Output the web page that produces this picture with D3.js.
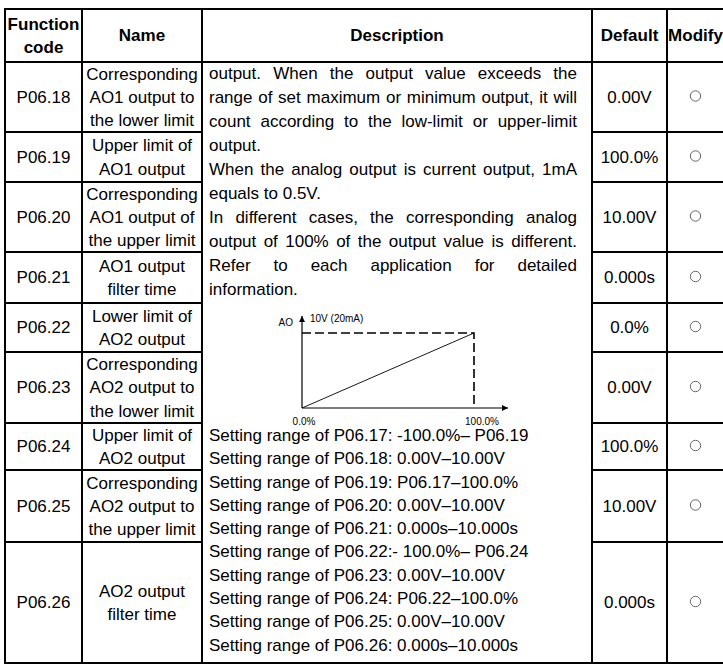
<!DOCTYPE html>
<html>
<head>
<meta charset="utf-8">
<script src="https://cdn.jsdelivr.net/npm/d3@7"></script>
<style>
  body { margin: 0; background: #fff; }
  svg { display: block; }
  text { font-family: "Liberation Sans", Arial, sans-serif; fill: #000; }
</style>
</head>
<body>
<svg id="tbl"></svg>
<script>
// table content
var headers = [["Function", "code"], ["Name"], ["Description"], ["Default"], ["Modify"]];
var codes = ["P06.18", "P06.19", "P06.20", "P06.21", "P06.22", "P06.23", "P06.24", "P06.25", "P06.26"];
var names = [
  ["Corresponding", "AO1 output to", "the lower limit"],
  ["Upper limit of", "AO1 output"],
  ["Corresponding", "AO1 output of", "the upper limit"],
  ["AO1 output", "filter time"],
  ["Lower limit of", "AO2 output"],
  ["Corresponding", "AO2 output to", "the lower limit"],
  ["Upper limit of", "AO2 output"],
  ["Corresponding", "AO2 output to", "the upper limit"],
  ["AO2 output", "filter time"]
];
var defaults = ["0.00V", "100.0%", "10.00V", "0.000s", "0.0%", "0.00V", "100.0%", "10.00V", "0.000s"];
// description text, true = justified line
var descLines = [
  ["output. When the output value exceeds the", true],
  ["range of set maximum or minimum output, it will", true],
  ["count according to the low-limit or upper-limit", true],
  ["output.", false],
  ["When the analog output is current output, 1mA", true],
  ["equals to 0.5V.", false],
  ["In different cases, the corresponding analog", true],
  ["output of 100% of the output value is different.", true],
  ["Refer to each application for detailed", true],
  ["information.", false]
];
var settingRanges = [
  "Setting range of P06.17: -100.0%\u2013 P06.19",
  "Setting range of P06.18: 0.00V\u201310.00V",
  "Setting range of P06.19: P06.17\u2013100.0%",
  "Setting range of P06.20: 0.00V\u201310.00V",
  "Setting range of P06.21: 0.000s\u201310.000s",
  "Setting range of P06.22:- 100.0%\u2013 P06.24",
  "Setting range of P06.23: 0.00V\u201310.00V",
  "Setting range of P06.24: P06.22\u2013100.0%",
  "Setting range of P06.25: 0.00V\u201310.00V",
  "Setting range of P06.26: 0.000s\u201310.000s"
];
// AO curve in the little figure
var aoPct = [0, 100];
var aoVolt = [0, 10];
var aoLabels = {y: "AO", top: "10V (20mA)", x0: "0.0%", x1: "100.0%"};

var width = 723, height = 665;
var colX = [5, 82, 202, 592, 667, 724];
var rowY = [9, 62, 132, 182, 252, 303, 352, 423, 470, 542, 663];
var lh = 23.4;
var fs = 17;

var svg = d3.select("#tbl").attr("width", width).attr("height", height);

function cx(i) { return (colX[i] + colX[i + 1]) / 2; }

function stack(g, lines, x, yc, bold) {
  var y0 = yc - (lines.length - 1) * lh / 2;
  lines.forEach(function(t, i) {
    g.append("text")
      .attr("x", x).attr("y", y0 + i * lh).attr("dy", "0.35em")
      .attr("text-anchor", "middle")
      .attr("font-size", fs)
      .attr("font-weight", bold ? "bold" : "normal")
      .text(t);
  });
}

// header
var head = svg.append("g");
headers.forEach(function(h, i) {
  stack(head, h, cx(i), (rowY[0] + rowY[1]) / 2, true);
});

// body rows
var body = svg.append("g");
codes.forEach(function(c, r) {
  var yc = (rowY[r + 1] + rowY[r + 2]) / 2;
  stack(body, [c], cx(0), yc, false);
  stack(body, names[r], cx(1), yc, false);
  stack(body, [defaults[r]], cx(3), yc, false);
  body.append("circle")
    .attr("cx", cx(4)).attr("cy", yc - 1).attr("r", 5.2)
    .attr("fill", "none").attr("stroke", "#666").attr("stroke-width", 1);
});

// description column
var desc = svg.append("g").attr("font-size", fs);
var dx0 = 209, dx1 = 577;
descLines.forEach(function(d, i) {
  var y = 73.5 + i * 24;
  if (!d[1]) {
    desc.append("text").attr("x", dx0).attr("y", y).attr("dy", "0.35em").attr("font-size", fs).text(d[0]);
    return;
  }
  var words = d[0].split(" ");
  var ws = words.map(function(w) {
    return desc.append("text").attr("y", y).attr("dy", "0.35em").attr("font-size", fs).text(w);
  });
  var widths = ws.map(function(t) { return t.node().getComputedTextLength(); });
  var gap = (dx1 - dx0 - d3.sum(widths)) / (words.length - 1);
  var x = dx0;
  ws.forEach(function(t, k) { t.attr("x", x); x += widths[k] + gap; });
});
settingRanges.forEach(function(s, i) {
  desc.append("text")
    .attr("x", dx0).attr("y", 435 + i * 23.3).attr("dy", "0.35em")
    .attr("font-size", fs).text(s);
});

// small AO figure
var xs = d3.scaleLinear().domain([0, 100]).range([302, 474]);
var ys = d3.scaleLinear().domain([0, 10]).range([408, 333]);
var fig = svg.append("g");
fig.append("defs").append("marker")
  .attr("id", "arrow")
  .attr("viewBox", "0 -5 10 10")
  .attr("refX", 10).attr("refY", 0)
  .attr("markerWidth", 6).attr("markerHeight", 6)
  .attr("markerUnits", "userSpaceOnUse")
  .attr("orient", "auto")
  .append("path").attr("d", "M0,-5L10,0L0,5Z").attr("fill", "#000");

fig.append("line")
  .attr("x1", xs(0)).attr("y1", ys(0)).attr("x2", xs(0)).attr("y2", 316)
  .attr("stroke", "#000").attr("stroke-width", 1.2).attr("marker-end", "url(#arrow)");
fig.append("line")
  .attr("x1", xs(0)).attr("y1", ys(0)).attr("x2", 508).attr("y2", ys(0))
  .attr("stroke", "#000").attr("stroke-width", 1.2).attr("marker-end", "url(#arrow)");
fig.append("path")
  .attr("d", "M" + xs(0) + "," + ys(10) + "H" + xs(100) + "V" + ys(0))
  .attr("fill", "none").attr("stroke", "#000").attr("stroke-width", 1.6)
  .attr("stroke-dasharray", "9,4");
fig.append("path")
  .datum(aoPct.map(function(p, i) { return [p, aoVolt[i]]; }))
  .attr("d", d3.line().x(function(d) { return xs(d[0]); }).y(function(d) { return ys(d[1]); }))
  .attr("fill", "none").attr("stroke", "#000").attr("stroke-width", 0.9);
fig.append("text").attr("x", 293).attr("y", 326).attr("text-anchor", "end").attr("font-size", 10).text(aoLabels.y);
fig.append("text").attr("x", 310).attr("y", 322).attr("font-size", 10).text(aoLabels.top);
fig.append("text").attr("x", xs(0) + 2).attr("y", 425).attr("text-anchor", "middle").attr("font-size", 10).text(aoLabels.x0);
fig.append("text").attr("x", xs(100) + 8).attr("y", 425).attr("text-anchor", "middle").attr("font-size", 10).text(aoLabels.x1);

// grid lines
var grid = svg.append("g").attr("stroke", "#000").attr("stroke-width", 2).attr("fill", "none");
grid.append("rect")
  .attr("x", colX[0]).attr("y", rowY[0])
  .attr("width", colX[5] - colX[0]).attr("height", rowY[10] - rowY[0]);
colX.slice(1, 5).forEach(function(x) {
  grid.append("line").attr("x1", x).attr("x2", x).attr("y1", rowY[0]).attr("y2", rowY[10]);
});
grid.append("line").attr("x1", colX[0]).attr("x2", colX[5]).attr("y1", rowY[1]).attr("y2", rowY[1]);
rowY.slice(2, 10).forEach(function(y) {
  // description cell is merged, so skip it
  grid.append("line").attr("x1", colX[0]).attr("x2", colX[2]).attr("y1", y).attr("y2", y);
  grid.append("line").attr("x1", colX[3]).attr("x2", colX[5]).attr("y1", y).attr("y2", y);
});
</script>
</body>
</html>
